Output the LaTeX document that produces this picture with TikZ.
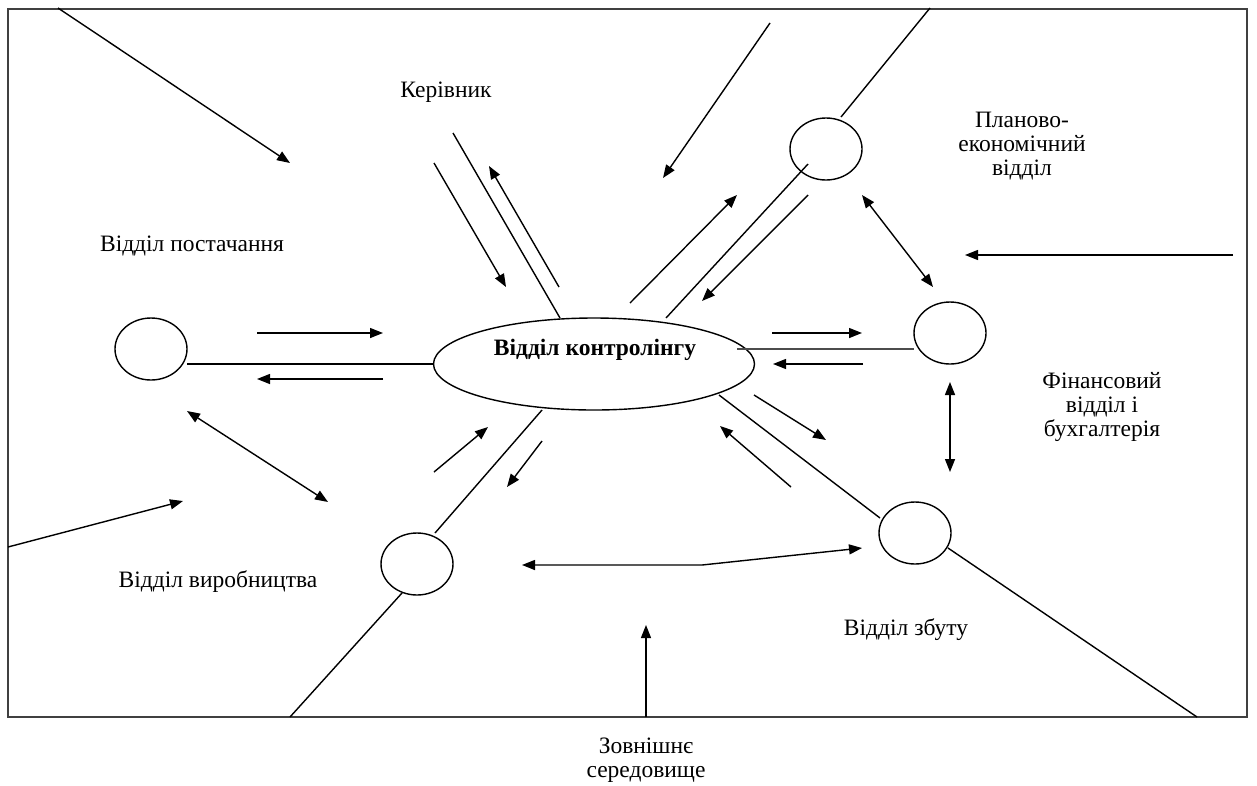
\documentclass[tikz,border=0pt]{standalone}
\usepackage{fontspec}
\setmainfont{Liberation Serif}
\usetikzlibrary{arrows.meta,shapes.geometric}
\begin{document}
\begin{tikzpicture}[x=1pt,y=-1pt,
  ln/.style={line width=1.4pt},
  arr/.style={line width=1.4pt,-{Triangle[length=13pt,width=10pt]}},
  darr/.style={line width=1.4pt,{Triangle[length=13pt,width=10pt]}-{Triangle[length=13pt,width=10pt]}},
  dept/.style={ellipse,draw,line width=1.4pt,minimum width=72pt,minimum height=62pt,inner sep=0pt},
  lbl/.style={font=\fontsize{23.5}{24}\selectfont,align=center,inner sep=0pt}]
\useasboundingbox (0,0) rectangle (1257,785);
% outer frame: the external environment
\draw[line width=1.8pt,black!75] (8,9) rectangle (1247,717);

% departments
\node[ellipse,draw,line width=1.4pt,minimum width=321pt,minimum height=92pt,inner sep=0pt] (ctl) at (594,364) {};
\node[font=\fontsize{23.5}{24}\selectfont\bfseries,inner sep=0pt] (ctltxt) at (595,350) {Відділ контролінгу};
\node[dept] (sup) at (151,349) {};
\node[dept] (prod) at (417,564) {};
\node[dept] (plan) at (826,149) {};
\node[dept] (fin) at (950,333) {};
\node[dept] (sal) at (915,533) {};

% labels
\node[lbl] (lkr) at (446,92) {Керівник};
\node[lbl] (lsup) at (192,246) {Відділ постачання};
\node[lbl] (lprod) at (218,582) {Відділ виробництва};
\node[lbl] (lplan) at (1022,146) {Планово-\\економічний\\відділ};
\node[lbl] (lfin) at (1102,407) {Фінансовий\\відділ і\\бухгалтерія};
\node[lbl] (lsal) at (906,630) {Відділ збуту};
\node[lbl] (lenv) at (646,760) {Зовнішнє\\середовище};

% end points of the connectors
\coordinate (a1) at (58,8);     \coordinate (a2) at (290,163);
\coordinate (k1) at (453,133);  \coordinate (k2) at (560,318);
\coordinate (k3) at (434,163);  \coordinate (k4) at (506,287);
\coordinate (k5) at (559,287);  \coordinate (k6) at (489,166);
\coordinate (b1) at (770,23);   \coordinate (b2) at (663,178);
\coordinate (p1) at (841,117);  \coordinate (p2) at (930,8);
\coordinate (p3) at (630,303);  \coordinate (p4) at (737,195);
\coordinate (p5) at (666,318);  \coordinate (p6) at (808,164);
\coordinate (p7) at (808,195);  \coordinate (p8) at (702,301);
\coordinate (q1) at (862,195);  \coordinate (q2) at (933,287);
\coordinate (c1) at (1233,255); \coordinate (c2) at (965,255);
\coordinate (s1) at (257,333);  \coordinate (s2) at (383,333);
\coordinate (s3) at (187,364);  \coordinate (s4) at (434,364);
\coordinate (s5) at (383,379);  \coordinate (s6) at (257,379);
\coordinate (t1) at (187,411);  \coordinate (t2) at (328,502);
\coordinate (d1) at (8,547);    \coordinate (d2) at (183,501);
\coordinate (m1) at (542,410);  \coordinate (m2) at (435,533);
\coordinate (m3) at (434,472);  \coordinate (m4) at (488,427);
\coordinate (m5) at (542,441);  \coordinate (m6) at (507,487);
\coordinate (f1) at (772,333);  \coordinate (f2) at (862,333);
\coordinate (f3) at (737,349);  \coordinate (f4) at (914,349);
\coordinate (f5) at (863,364);  \coordinate (f6) at (773,364);
\coordinate (g1) at (950,382);  \coordinate (g2) at (950,472);
\coordinate (h1) at (719,395);  \coordinate (h2) at (880,518);
\coordinate (h3) at (754,395);  \coordinate (h4) at (826,440);
\coordinate (h5) at (791,487);  \coordinate (h6) at (720,426);
\coordinate (e1) at (948,548);  \coordinate (e2) at (1197,717);
\coordinate (e3) at (402,593);  \coordinate (e4) at (290,717);
\coordinate (r1) at (522,565);  \coordinate (r2) at (702,565);
\coordinate (r3) at (862,548);
\coordinate (v1) at (646,717);  \coordinate (v2) at (646,625);

% connectors
\draw[arr] (a1) -- (a2);
\draw[ln] (k1) -- (k2);
\draw[arr] (k3) -- (k4);
\draw[arr] (k5) -- (k6);
\draw[arr] (b1) -- (b2);
\draw[ln] (p1) -- (p2);
\draw[arr] (p3) -- (p4);
\draw[ln] (p5) -- (p6);
\draw[arr] (p7) -- (p8);
\draw[darr] (q1) -- (q2);
\draw[arr] (c1) -- (c2);
\draw[arr] (s1) -- (s2);
\draw[ln] (s3) -- (s4);
\draw[arr] (s5) -- (s6);
\draw[darr] (t1) -- (t2);
\draw[arr] (d1) -- (d2);
\draw[ln] (m1) -- (m2);
\draw[arr] (m3) -- (m4);
\draw[arr] (m5) -- (m6);
\draw[arr] (f1) -- (f2);
\draw[ln,black!70] (f3) -- (f4);
\draw[arr] (f5) -- (f6);
\draw[darr] (g1) -- (g2);
\draw[ln] (h1) -- (h2);
\draw[arr] (h3) -- (h4);
\draw[arr] (h5) -- (h6);
\draw[ln] (e1) -- (e2);
\draw[ln] (e3) -- (e4);
\draw[darr] (r1) -- (r2) -- (r3);
\draw[arr] (v1) -- (v2);
\end{tikzpicture}
\end{document}
